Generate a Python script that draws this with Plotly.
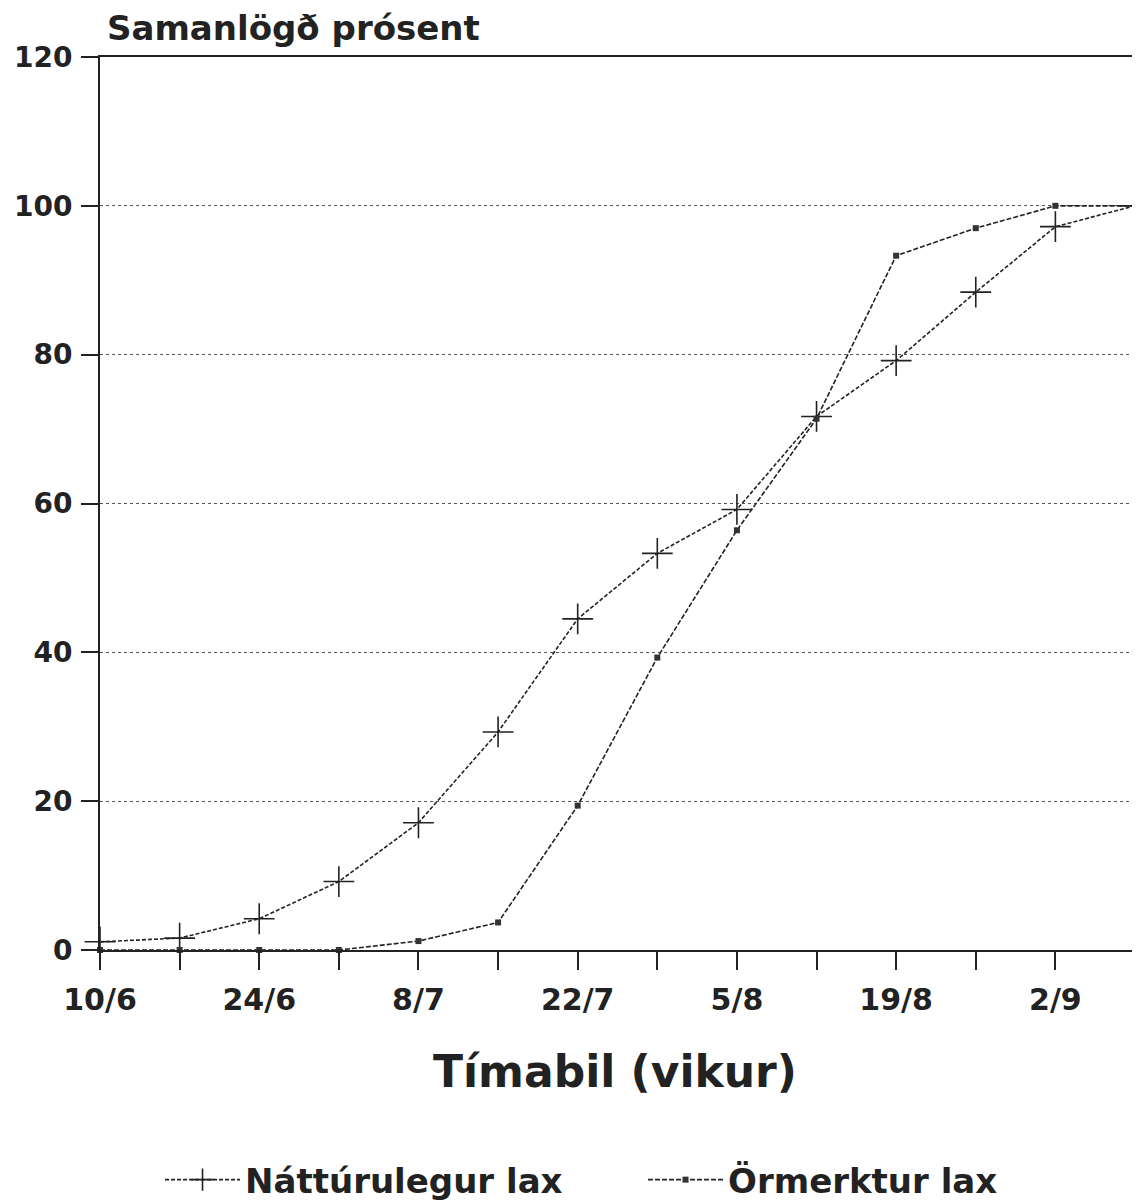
import plotly.graph_objects as go

# Vikur (dagsetningar) og samanlögð prósent
vikur = ["10/6", "17/6", "24/6", "1/7", "8/7", "15/7", "22/7", "29/7",
         "5/8", "12/8", "19/8", "26/8", "2/9", "9/9"]
merki = ["10/6", "", "24/6", "", "8/7", "", "22/7", "",
         "5/8", "", "19/8", "", "2/9", ""]
natturulegur = [1.1, 1.6, 4.2, 9.2, 17.1, 29.3, 44.5, 53.3, 59.2, 71.7, 79.2, 88.4, 97.2, 100]
ormerktur = [0, 0, 0, 0, 1.2, 3.7, 19.4, 39.3, 56.4, 71.4, 93.3, 97.0, 100, 100]

letur = "DejaVu Sans, Arial, sans-serif"

fig = go.Figure()

fig.add_trace(go.Scatter(
    x=vikur, y=natturulegur,
    name="Náttúrulegur lax",
    mode="lines+markers",
    line=dict(color="#222", width=1.6, dash="4px,2px"),
    marker=dict(symbol="cross-thin-open", size=22, line=dict(width=1.6, color="#222")),
    cliponaxis=False
))

fig.add_trace(go.Scatter(
    x=vikur, y=ormerktur,
    name="Örmerktur lax",
    mode="lines+markers",
    line=dict(color="#222", width=1.6, dash="5px,2px"),
    marker=dict(symbol="square", size=6, color="#333"),
    cliponaxis=False
))

# síðan hefur 8px spássíu, því er myndin aðeins minni
fig.update_layout(
    width=1132, height=1192,
    margin=dict(l=92, r=5, t=49, b=250, autoexpand=False),
    paper_bgcolor="white",
    plot_bgcolor="white",
    font=dict(family=letur, color="#222"),
    legend=dict(
        orientation="h", x=0.058, xanchor="left", y=-0.2576, yanchor="middle",
        font=dict(size=34, weight="bold"), itemwidth=75,
        entrywidthmode="pixels", entrywidth=393
    ),
    annotations=[
        dict(text="Samanlögð prósent", xref="paper", yref="paper", x=0.005, y=1.0325,
             xanchor="left", yanchor="middle", showarrow=False,
             font=dict(size=34, weight="bold")),
        dict(text="Tímabil (vikur)", xref="paper", yref="paper", x=0.4976, y=-0.1366,
             xanchor="center", yanchor="middle", showarrow=False,
             font=dict(size=44, weight="bold")),
    ]
)

fig.update_xaxes(
    type="category", range=[0, 13], automargin=False,
    tickvals=vikur, ticktext=merki,
    ticks="outside", ticklen=18, tickwidth=2, tickcolor="#222",
    tickfont=dict(size=30, weight="bold"), ticklabelstandoff=4,
    showgrid=False, showline=True, linecolor="#222", linewidth=2, mirror=True
)

fig.update_yaxes(
    range=[0, 120], tickvals=[0, 20, 40, 60, 80, 100, 120], automargin=False,
    ticks="outside", ticklen=17, tickwidth=2, tickcolor="#222",
    tickfont=dict(size=28, weight="bold"), ticklabelstandoff=3,
    showgrid=True, gridcolor="#555", griddash="dot", gridwidth=1,
    zeroline=False, showline=True, linecolor="#222", linewidth=2, mirror=True
)

fig.write_html("out.html")
